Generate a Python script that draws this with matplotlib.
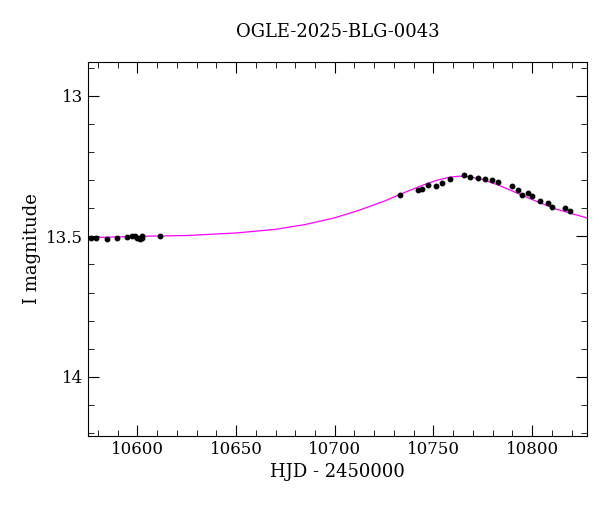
import numpy as np
import matplotlib
matplotlib.use("Agg")
import matplotlib.pyplot as plt
from matplotlib.ticker import MultipleLocator, FuncFormatter

obs_hjd = [10576.5, 10579.0, 10584.8, 10589.9, 10594.9, 10597.5, 10602.5, 10599.0, 10600.0,
           10601.2, 10602.3, 10611.3,
           10733.2, 10742.3, 10744.3, 10747.3, 10751.4, 10754.4, 10758.5, 10765.6, 10768.6,
           10772.7, 10776.2, 10779.7, 10782.8, 10789.9, 10792.9, 10794.9, 10797.9, 10799.9,
           10804.0, 10808.1, 10810.1, 10816.7, 10819.2]
obs_mag = [13.507, 13.505, 13.51, 13.505, 13.503, 13.50, 13.505, 13.50, 13.505,
           13.51, 13.50, 13.50,
           13.352, 13.335, 13.33, 13.317, 13.32, 13.31, 13.295, 13.283, 13.29,
           13.293, 13.297, 13.30, 13.305, 13.32, 13.335, 13.353, 13.345, 13.355,
           13.375, 13.38, 13.395, 13.40, 13.41]

model_hjd = [10575, 10600, 10625, 10650, 10670, 10685, 10700, 10712, 10725, 10735, 10745,
             10752, 10758, 10763, 10768, 10775, 10783, 10792, 10802, 10812, 10828]
model_mag = [13.505, 13.50, 13.497, 13.488, 13.475, 13.458, 13.434, 13.408, 13.375, 13.345,
             13.317, 13.30, 13.29, 13.286, 13.288, 13.298, 13.318, 13.345, 13.375, 13.403, 13.435]

fig = plt.figure(figsize=(6.0, 5.12), dpi=100)
ax = fig.add_axes([88/600, 1-436/512, (587-88)/600, (436-62)/512])
ax.plot(model_hjd, model_mag, color="magenta", lw=0.9)
ax.plot(obs_hjd, obs_mag, "o", color="black", ms=3.2)
ax.set_xlim(10575, 10827.8)
ax.set_ylim(14.21, 12.88)
ax.xaxis.set_major_locator(MultipleLocator(50))
ax.xaxis.set_minor_locator(MultipleLocator(10))
ax.yaxis.set_major_locator(MultipleLocator(0.5))
ax.yaxis.set_minor_locator(MultipleLocator(0.1))
ax.yaxis.set_major_formatter(FuncFormatter(lambda v, p: f"{v:g}"))
ax.tick_params(which="both", direction="in", top=True, right=True, labelsize=12)
ax.tick_params(which="major", length=8)
ax.tick_params(which="minor", length=4)
for l in ax.get_xticklabels() + ax.get_yticklabels():
    l.set_fontfamily("DejaVu Serif")
ax.set_xlabel("HJD - 2450000", fontsize=13, family="DejaVu Serif")
ax.set_ylabel("I magnitude", fontsize=13, family="DejaVu Serif")
ax.set_title("OGLE-2025-BLG-0043", fontsize=13, family="DejaVu Serif", pad=18)
fig.savefig("out.png", dpi=100)
